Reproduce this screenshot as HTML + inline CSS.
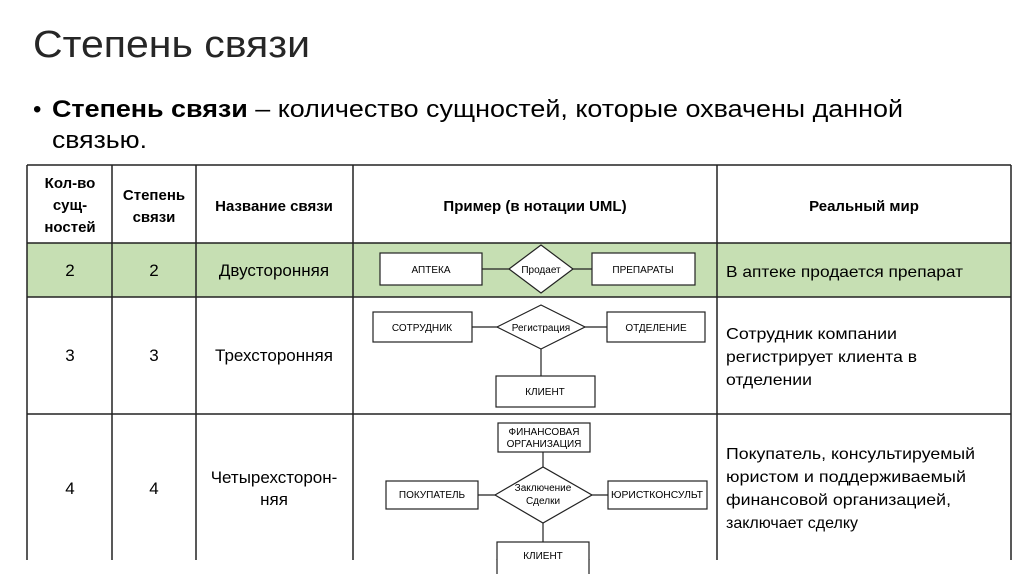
<!DOCTYPE html>
<html><head><meta charset="utf-8"><style>
html,body{margin:0;padding:0;background:#fff;width:1024px;height:574px;overflow:hidden}
svg{display:block}
text{font-family:"Liberation Sans","Noto Sans CJK SC",sans-serif;fill:#000}
</style></head><body>
<svg width="1024" height="574" viewBox="0 0 1024 574" xmlns="http://www.w3.org/2000/svg">
<text x="33" y="57" font-size="38" textLength="277" lengthAdjust="spacingAndGlyphs" style="fill:#262626">Степень связи</text>
<text x="33" y="117" font-size="24">•</text>
<text x="52" y="117" font-size="24" textLength="851" lengthAdjust="spacingAndGlyphs"><tspan font-weight="bold">Степень связи</tspan> – количество сущностей, которые охвачены данной</text>
<text x="52" y="148" font-size="24" textLength="95" lengthAdjust="spacingAndGlyphs">связью.</text>

<rect x="27" y="243" width="984" height="54" fill="#c6dfb3"/>
<g stroke="#222" stroke-width="1.5" fill="none">
<line x1="27" y1="165" x2="1011" y2="165"/>
<line x1="27" y1="243" x2="1011" y2="243"/>
<line x1="27" y1="297" x2="1011" y2="297"/>
<line x1="27" y1="414" x2="1011" y2="414"/>
<line x1="27" y1="165" x2="27" y2="560"/>
<line x1="112" y1="165" x2="112" y2="560"/>
<line x1="196" y1="165" x2="196" y2="560"/>
<line x1="353" y1="165" x2="353" y2="560"/>
<line x1="717" y1="165" x2="717" y2="560"/>
<line x1="1011" y1="165" x2="1011" y2="560"/>
</g>
<g font-size="15" font-weight="bold" text-anchor="middle">
<text x="70" y="188">Кол-во</text><text x="70" y="210">сущ-</text><text x="70" y="232">ностей</text>
<text x="154" y="200">Степень</text><text x="154" y="222">связи</text>
<text x="274" y="211">Название связи</text>
<text x="535" y="211">Пример (в нотации UML)</text>
<text x="864" y="211">Реальный мир</text>
</g>
<g font-size="17" text-anchor="middle">
<text x="70" y="276">2</text><text x="154" y="276">2</text><text x="274" y="276">Двусторонняя</text>
<text x="70" y="361">3</text><text x="154" y="361">3</text><text x="274" y="361">Трехсторонняя</text>
<text x="70" y="494">4</text><text x="154" y="494">4</text><text x="274" y="483">Четырехсторон-</text><text x="274" y="505">няя</text>
</g>
<g font-size="16">
<text x="726" y="277" textLength="237" lengthAdjust="spacingAndGlyphs">В аптеке продается препарат</text>
<text x="726" y="339" textLength="171" lengthAdjust="spacingAndGlyphs">Сотрудник компании</text>
<text x="726" y="362" textLength="191" lengthAdjust="spacingAndGlyphs">регистрирует клиента в</text>
<text x="726" y="385" textLength="86" lengthAdjust="spacingAndGlyphs">отделении</text>
<text x="726" y="459" textLength="249" lengthAdjust="spacingAndGlyphs">Покупатель, консультируемый</text>
<text x="726" y="482" textLength="240" lengthAdjust="spacingAndGlyphs">юристом и поддерживаемый</text>
<text x="726" y="505" textLength="225" lengthAdjust="spacingAndGlyphs">финансовой организацией,</text>
<text x="726" y="528">заключает сделку</text>
</g>
<g stroke="#222" stroke-width="1.2" fill="#fff">
<line x1="482" y1="269" x2="592" y2="269"/>
<rect x="380" y="253" width="102" height="32"/>
<rect x="592" y="253" width="103" height="32"/>
<polygon points="509,269 541,245 573,269 541,293"/>
<line x1="472" y1="327" x2="607" y2="327"/>
<line x1="541" y1="349" x2="541" y2="376"/>
<rect x="373" y="312" width="99" height="30"/>
<rect x="607" y="312" width="98" height="30"/>
<rect x="496" y="376" width="99" height="31"/>
<polygon points="497,327 541,305 585,327 541,349"/>
<line x1="478" y1="495" x2="608" y2="495"/>
<line x1="543" y1="452" x2="543" y2="542"/>
<rect x="498" y="423" width="92" height="29"/>
<rect x="386" y="481" width="92" height="28"/>
<rect x="608" y="481" width="99" height="28"/>
<rect x="497" y="542" width="92" height="40"/>
<polygon points="495,495 543,467 592,495 543,523"/>
</g>
<g font-size="10" text-anchor="middle">
<text x="431" y="273">АПТЕКА</text>
<text x="541" y="273">Продает</text>
<text x="643" y="273">ПРЕПАРАТЫ</text>
<text x="422" y="331">СОТРУДНИК</text>
<text x="541" y="331">Регистрация</text>
<text x="656" y="331">ОТДЕЛЕНИЕ</text>
<text x="545" y="395">КЛИЕНТ</text>
<text x="544" y="435">ФИНАНСОВАЯ</text>
<text x="544" y="447">ОРГАНИЗАЦИЯ</text>
<text x="543" y="491">Заключение</text>
<text x="543" y="504">Сделки</text>
<text x="432" y="498">ПОКУПАТЕЛЬ</text>
<text x="657" y="498" textLength="92" lengthAdjust="spacingAndGlyphs">ЮРИСТКОНСУЛЬТ</text>
<text x="543" y="559">КЛИЕНТ</text>
</g>
<rect x="0" y="560" width="1024" height="14" fill="#fff"/>
<rect x="497" y="559" width="92" height="15" fill="#fff"/>
<g stroke="#222" stroke-width="1.2"><line x1="497" y1="559" x2="497" y2="574"/><line x1="589" y1="559" x2="589" y2="574"/></g>
</svg>
</body></html>
